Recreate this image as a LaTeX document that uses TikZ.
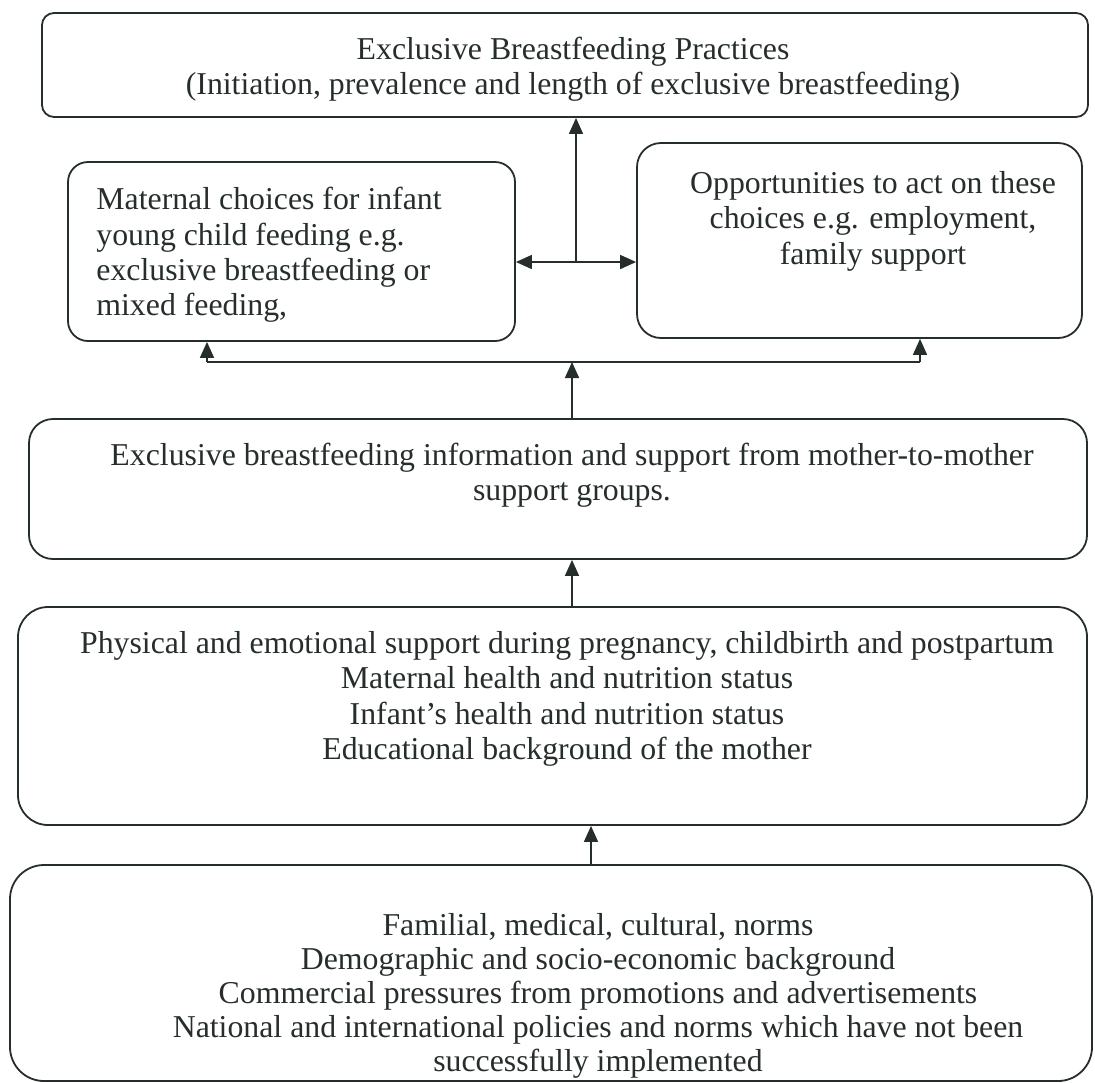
\documentclass[tikz,border=0pt]{standalone}
\usepackage{fontspec}
\setmainfont{Liberation Serif}
\usetikzlibrary{arrows.meta}
\definecolor{ink}{RGB}{38,46,44}
\begin{document}
\begin{tikzpicture}[x=0.5pt,y=-0.5pt,
  box/.style={draw=ink,line width=0.9pt,rectangle,inner sep=0pt},
  txt/.style={font=\fontsize{15.9}{17.7}\selectfont,text=ink,inner sep=0pt},
  arr/.style={draw=ink,line width=0.8pt,-{Triangle[width=7pt,length=8pt]}},
  dblarr/.style={draw=ink,line width=0.8pt,{Triangle[width=7pt,length=8pt]}-{Triangle[width=7pt,length=8pt]}},
  ln/.style={draw=ink,line width=0.8pt}]
\useasboundingbox (0,0) rectangle (1095,1082);
% boxes
\node[box,rounded corners=6pt,minimum width=523pt,minimum height=52pt] (top) at (565,65) {};
\node[box,rounded corners=10pt,minimum width=223.5pt,minimum height=89.5pt] (left) at (291.5,251.5) {};
\node[box,rounded corners=12pt,minimum width=222.5pt,minimum height=97.5pt] (right) at (859.5,240.5) {};
\node[box,rounded corners=12pt,minimum width=529pt,minimum height=70pt] (mid) at (558,489) {};
\node[box,rounded corners=15pt,minimum width=534.5pt,minimum height=109pt] (four) at (552.5,716) {};
\node[box,rounded corners=17pt,minimum width=541pt,minimum height=108pt] (bot) at (551,973) {};
% texts
\node[txt,align=center] (ttop) at (573,69) {Exclusive Breastfeeding Practices\\(Initiation, prevalence and length of exclusive breastfeeding)};
\node[txt,align=left,anchor=west] (tleft) at (96,255) {Maternal choices for infant\\young child feeding e.g.\\exclusive breastfeeding or\\mixed feeding,};
\node[txt,align=center] (tright) at (873,221) {Opportunities to act on these\\choices e.g. employment,\\family support};
\node[txt,align=center] (tmid) at (572,475) {Exclusive breastfeeding information and support from mother-to-mother\\support groups.};
\node[txt,align=center] (tfour) at (567,699) {Physical and emotional support during pregnancy, childbirth and postpartum\\Maternal health and nutrition status\\Infant’s health and nutrition status\\Educational background of the mother};
\node[txt,align=center,font=\fontsize{15.9}{17}\selectfont] (tbot) at (598,996) {Familial, medical, cultural, norms\\Demographic and socio-economic background\\Commercial pressures from promotions and advertisements\\National and international policies and norms which have not been\\successfully implemented};
% connectors
\coordinate (j) at (576,262);
\draw[dblarr] (left.east |- j) -- (right.west |- j);
\draw[arr] (j) -- (j |- top.south);
\coordinate (hl) at (207,362);
\coordinate (hr) at (920,362);
\draw[ln] (hl) -- (hr);
\draw[arr] (hl) -- (hl |- left.south);
\draw[arr] (hr) -- (hr |- right.south);
\coordinate (m1) at (572,0);
\draw[arr] (m1 |- mid.north) -- (m1 |- hl);
\draw[arr] (m1 |- four.north) -- (m1 |- mid.south);
\coordinate (b1) at (591,0);
\draw[arr] (b1 |- bot.north) -- (b1 |- four.south);
\end{tikzpicture}
\end{document}
